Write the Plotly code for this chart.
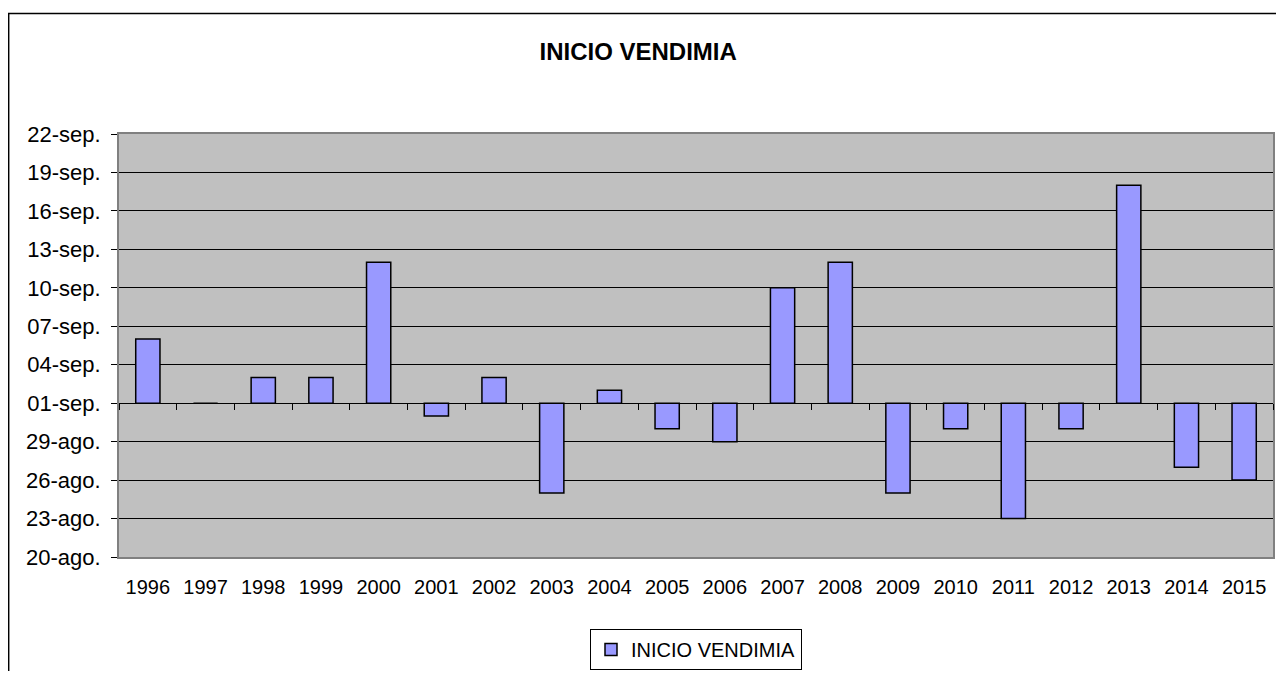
import pandas as pd
import plotly.graph_objects as go

# Fecha de inicio de la vendimia por año
anios = ["1996", "1997", "1998", "1999", "2000", "2001", "2002", "2003", "2004", "2005",
         "2006", "2007", "2008", "2009", "2010", "2011", "2012", "2013", "2014", "2015"]
fechas = ["1996-09-06", "1997-09-01", "1998-09-03", "1999-09-03", "2000-09-12",
          "2001-08-31", "2002-09-03", "2003-08-25", "2004-09-02", "2005-08-30",
          "2006-08-29", "2007-09-10", "2008-09-12", "2009-08-25", "2010-08-30",
          "2011-08-23", "2012-08-30", "2013-09-18", "2014-08-27", "2015-08-26"]

# eje Y: días respecto al 1 de septiembre
ticks_dias = [-12, -9, -6, -3, 0, 3, 6, 9, 12, 15, 18, 21]
ticks_texto = ["20-ago.", "23-ago.", "26-ago.", "29-ago.", "01-sep.", "04-sep.",
               "07-sep.", "10-sep.", "13-sep.", "16-sep.", "19-sep.", "22-sep."]

dias = [(pd.Timestamp(f) - pd.Timestamp(f[:4] + "-09-01")).days for f in fechas]

FONT = "Liberation Sans, Arial, sans-serif"

fig = go.Figure()
fig.add_trace(go.Bar(
    x=anios, y=dias,
    name="INICIO VENDIMIA",
    width=0.42,
    marker=dict(color="#9999FF", line=dict(color="#000000", width=1.5)),
    customdata=fechas,
    hovertemplate="%{x}: %{customdata}<extra></extra>",
))
# eje auxiliar que cruza en 01-sep. con marcas entre categorías
fig.add_trace(go.Scatter(
    x=anios, y=[0] * len(anios), xaxis="x2", mode="markers",
    marker=dict(opacity=0), showlegend=False, hoverinfo="skip",
))

y0, y1 = ticks_dias[0], ticks_dias[-1]
cruce = (0 - y0) / (y1 - y0)
rango_x = [-0.5, len(anios) - 0.5]

fig.update_layout(
    width=1268, height=663,
    paper_bgcolor="white",
    plot_bgcolor="#C0C0C0",
    font=dict(family=FONT, size=20, color="#000"),
    margin=dict(l=111, r=1, t=126, b=109),
    title=dict(text="<b>INICIO VENDIMIA</b>", x=0.497, xanchor="center",
               y=0.934, yanchor="middle", font=dict(size=24, family=FONT)),
    showlegend=True,
    legend=dict(orientation="h", x=0.5, xanchor="center", y=-0.17, yanchor="top",
                bordercolor="#000", borderwidth=1, bgcolor="white",
                font=dict(size=20), itemwidth=30),
    xaxis=dict(
        type="category", range=rango_x,
        showgrid=False, showline=True, mirror=True, linecolor="#808080", linewidth=2,
        ticks="", ticklabelstandoff=11, fixedrange=True,
    ),
    xaxis2=dict(
        type="category", range=rango_x,
        overlaying="x", anchor="free", position=cruce,
        showticklabels=False, showgrid=False, showline=True, linecolor="#000",
        linewidth=1, ticks="outside", tickson="boundaries", ticklen=6,
        tickcolor="#000", tickwidth=1, fixedrange=True,
    ),
    yaxis=dict(
        range=[y0, y1], tickvals=ticks_dias, ticktext=ticks_texto,
        tickfont=dict(size=22),
        showgrid=True, gridcolor="#000", gridwidth=1, zeroline=False,
        showline=True, mirror=True, linecolor="#808080", linewidth=2,
        ticks="outside", ticklen=6, tickcolor="#000", ticklabelstandoff=6,
        fixedrange=True,
    ),
    shapes=[dict(type="rect", xref="paper", yref="paper",
                 x0=-0.0956, x1=1.007, y0=-0.35, y1=1.285,
                 line=dict(color="#000", width=1.5), layer="below")],
)

fig.write_html("out.html")
